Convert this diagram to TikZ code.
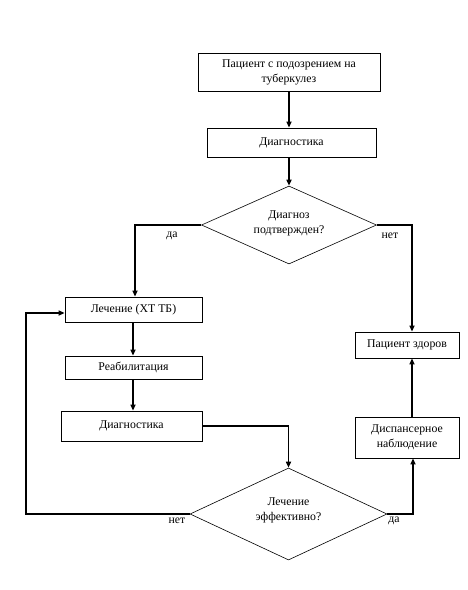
\documentclass[tikz,border=0pt]{standalone}
\usepackage{fontspec}
\setmainfont{Liberation Serif}
\usetikzlibrary{shapes.geometric,arrows.meta}
\newcommand{\dtext}[2]{\smash{\makebox[0pt]{\raisebox{#1}{\begin{tabular}{@{}c@{}}#2\end{tabular}}}}}
\begin{document}
\begin{tikzpicture}[x=1pt,y=-1pt,
  box/.style={draw,line width=0.8pt,inner sep=1pt,align=center,font=\fontsize{11.8}{15}\selectfont},
  dec/.style={draw,diamond,line width=0.6pt,inner sep=0pt,font=\fontsize{11.8}{15}\selectfont},
  conn/.style={line width=1.8pt,-{Triangle[length=6pt,width=5pt]}},
  lbl/.style={font=\fontsize{11.8}{15}\selectfont,inner sep=0pt}]
\useasboundingbox (0,0) rectangle (467,590);
\node[box,minimum width=182pt,minimum height=38pt] (b1) at (289,72) {Пациент с подозрением на\\туберкулез};
\node[box,minimum width=169pt,minimum height=29pt] (b2) at (291.5,142.5) {Диагностика};
\node[dec,minimum width=175pt,minimum height=78pt] (d1) at (289,225) {\dtext{-1pt}{Диагноз\\подтвержден?}};
\node[box,minimum width=137pt,minimum height=25pt] (lech) at (133.5,309.5) {Лечение (ХТ ТБ)};
\node[box,minimum width=137pt,minimum height=23pt] (reab) at (133.5,367.5) {Реабилитация};
\node[box,minimum width=141pt,minimum height=30pt] (b3) at (131.5,426) {\raisebox{3pt}{Диагностика}};
\node[dec,minimum width=197pt,minimum height=92pt] (d2) at (288.5,514) {\dtext{1pt}{Лечение\\эффективно?}};
\node[box,minimum width=104pt,minimum height=26pt] (zd) at (407,345) {Пациент здоров};
\node[box,minimum width=104pt,minimum height=41pt] (disp) at (407,437.5) {Диспансерное\\наблюдение};
\coordinate (loop) at (26,514);
\draw[conn] (b1.south -| 289,0) -- (289,0 |- b2.north);
\draw[conn] (289,0 |- b2.south) -- (d1.north);
\draw[conn] (d1.west) -| (135,0 |- lech.north);
\draw[conn] (d1.east) -| (412,0 |- zd.north);
\draw[conn] (133,0 |- lech.south) -- (133,0 |- reab.north);
\draw[conn] (133,0 |- reab.south) -- (133,0 |- b3.north);
\draw[conn] (b3.east) -| (d2.north);
\draw[conn] (d2.east) -| (413,0 |- disp.south);
\draw[conn] (412,0 |- disp.north) -- (412,0 |- zd.south);
\draw[conn] (d2.west) -- (loop) |- (lech.west |- 0,313);
\node[lbl] (l1) at (172,236) {да};
\node[lbl] (l2) at (390,236) {нет};
\node[lbl] (l3) at (177,521) {нет};
\node[lbl] (l4) at (394,521) {да};
\end{tikzpicture}
\end{document}
